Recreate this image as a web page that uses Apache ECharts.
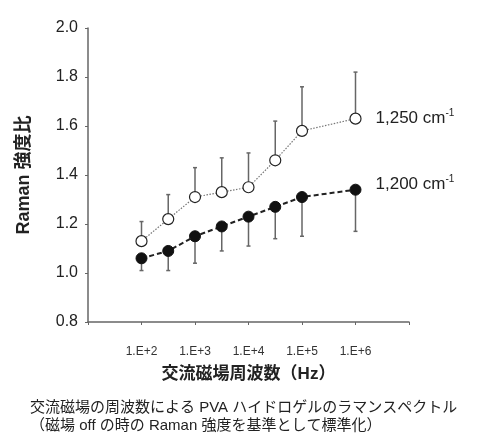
<!DOCTYPE html>
<html><head><meta charset="utf-8">
<script src="https://cdn.jsdelivr.net/npm/echarts@6/dist/echarts.min.js"></script>
<style>html,body{margin:0;padding:0;background:#fff}#c{width:488px;height:433px}</style>
</head><body><div id="c"></div>
<script>
const frequencies = [100, 316, 1000, 3162, 10000, 31623, 100000, 1000000];
const ratio1250 = [1.13, 1.22, 1.31, 1.33, 1.35, 1.46, 1.58, 1.63];
const upper1250 = [1.21, 1.32, 1.43, 1.47, 1.49, 1.62, 1.76, 1.82];
const ratio1200 = [1.06, 1.09, 1.15, 1.19, 1.23, 1.27, 1.31, 1.34];
const lower1200 = [1.01, 1.01, 1.04, 1.09, 1.11, 1.14, 1.15, 1.17];
const seriesNames = ['1,250 cm', '1,200 cm'];
const yTicks = [0.8, 1.0, 1.2, 1.4, 1.6, 1.8, 2.0];

const FONT = '"Liberation Sans", "Noto Sans CJK JP", sans-serif';
const chart = echarts.init(document.getElementById('c'));

function errorBar(ends, values) {
  return {
    type: 'custom',
    z: 1,
    silent: true,
    data: frequencies.map((f, i) => [f, values[i], ends[i]]),
    renderItem: function (params, api) {
      const p1 = api.coord([api.value(0), api.value(1)]);
      const p2 = api.coord([api.value(0), api.value(2)]);
      const w = 2;
      const st = { stroke: '#666', lineWidth: 1.5 };
      return {
        type: 'group',
        children: [
          { type: 'line', shape: { x1: p1[0], y1: p1[1], x2: p2[0], y2: p2[1] }, style: st },
          { type: 'line', shape: { x1: p2[0] - w, y1: p2[1], x2: p2[0] + w, y2: p2[1] }, style: st }
        ]
      };
    }
  };
}

const endRich = {
  a: { fontSize: 17, color: '#222', fontFamily: FONT },
  s: { fontSize: 10, color: '#222', fontFamily: FONT, verticalAlign: 'top', padding: [0, 0, 10, 0] }
};

chart.setOption({
  animation: false,
  backgroundColor: '#fff',
  grid: { left: 88, right: 79, top: 28, bottom: 111 },
  xAxis: {
    type: 'log', logBase: 10, min: 10, max: 10000000,
    name: '交流磁場周波数（Hz）', nameLocation: 'middle', nameGap: 44,
    nameTextStyle: { fontSize: 17, fontWeight: 'bold', color: '#222', fontFamily: FONT },
    axisLine: { lineStyle: { color: '#666', width: 1.5 } },
    axisTick: { show: true, length: 3, lineStyle: { color: '#666' } },
    splitLine: { show: false },
    minorTick: { show: false },
    axisLabel: {
      fontSize: 12, color: '#333', margin: 24, fontFamily: FONT,
      formatter: function (v) {
        const e = Math.round(Math.log10(v));
        if (e < 2 || e > 6) return '';
        return '1.E+' + e;
      }
    }
  },
  yAxis: {
    type: 'value', min: 0.8, max: 2.0, interval: 0.2,
    name: 'Raman 強度比', nameLocation: 'middle', nameGap: 55,
    nameTextStyle: { fontSize: 18, fontWeight: 'bold', color: '#222', fontFamily: FONT },
    axisLine: { show: true, lineStyle: { color: '#666', width: 1.5 } },
    axisTick: { show: true, length: 3, lineStyle: { color: '#666' } },
    splitLine: { show: false },
    axisLabel: {
      fontSize: 16, color: '#222', margin: 10, fontFamily: FONT,
      formatter: v => yTicks.some(t => Math.abs(t - v) < 1e-6) ? v.toFixed(1) : ''
    }
  },
  series: [
    errorBar(upper1250, ratio1250),
    errorBar(lower1200, ratio1200),
    {
      type: 'line', name: seriesNames[0], z: 3,
      data: frequencies.map((f, i) => [f, ratio1250[i]]),
      symbol: 'circle', symbolSize: 11,
      itemStyle: { color: '#fff', borderColor: '#222', borderWidth: 1.2 },
      lineStyle: { color: '#777', width: 1.2, type: [1.5, 1.5] },
      endLabel: {
        show: true, distance: 20,
        formatter: '{a|' + seriesNames[0] + '}{s|-1}', rich: endRich
      }
    },
    {
      type: 'line', name: seriesNames[1], z: 3,
      data: frequencies.map((f, i) => [f, ratio1200[i]]),
      symbol: 'circle', symbolSize: 11,
      itemStyle: { color: '#111', borderColor: '#111', borderWidth: 1 },
      lineStyle: { color: '#222', width: 2, type: [5, 3] },
      endLabel: {
        show: true, distance: 20, offset: [0, -5],
        formatter: '{a|' + seriesNames[1] + '}{s|-1}', rich: endRich
      }
    }
  ],
  graphic: [
    {
      type: 'text', left: 30, top: 399,
      style: {
        text: '交流磁場の周波数による PVA ハイドロゲルのラマンスペクトル\n（磁場 off の時の Raman 強度を基準として標準化）',
        fontSize: 15, lineHeight: 18, fill: '#222', fontFamily: FONT
      }
    }
  ]
});
</script>
</body></html>
